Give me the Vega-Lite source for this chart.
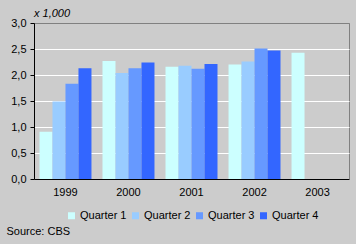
{
  "$schema": "https://vega.github.io/schema/vega-lite/v6.json",
  "width": 315,
  "height": 156,
  "autosize": {"type": "none"},
  "padding": {"left": 34, "top": 23, "right": 7, "bottom": 65},
  "background": "#cccccc",
  "title": {"text": "x 1,000", "fontStyle": "italic", "fontWeight": "normal", "font": "Liberation Sans", "fontSize": 11, "anchor": "start", "frame": "group", "offset": -2, "color": "black"},
  "data": {"values": [
    {"year": "1999", "quarter": "Quarter 1", "value": 0.91},
    {"year": "1999", "quarter": "Quarter 2", "value": 1.49},
    {"year": "1999", "quarter": "Quarter 3", "value": 1.83},
    {"year": "1999", "quarter": "Quarter 4", "value": 2.13},
    {"year": "2000", "quarter": "Quarter 1", "value": 2.27},
    {"year": "2000", "quarter": "Quarter 2", "value": 2.04},
    {"year": "2000", "quarter": "Quarter 3", "value": 2.13},
    {"year": "2000", "quarter": "Quarter 4", "value": 2.24},
    {"year": "2001", "quarter": "Quarter 1", "value": 2.16},
    {"year": "2001", "quarter": "Quarter 2", "value": 2.18},
    {"year": "2001", "quarter": "Quarter 3", "value": 2.12},
    {"year": "2001", "quarter": "Quarter 4", "value": 2.21},
    {"year": "2002", "quarter": "Quarter 1", "value": 2.2},
    {"year": "2002", "quarter": "Quarter 2", "value": 2.26},
    {"year": "2002", "quarter": "Quarter 3", "value": 2.51},
    {"year": "2002", "quarter": "Quarter 4", "value": 2.47},
    {"year": "2003", "quarter": "Quarter 1", "value": 2.43}
  ]},
  "mark": {"type": "bar"},
  "encoding": {
    "x": {
      "field": "year", "type": "nominal",
      "scale": {"paddingInner": 0.175, "paddingOuter": 0.087},
      "axis": {
        "labelAngle": 0, "ticks": false, "labelPadding": 7, "domainColor": "black",
        "title": "Source: CBS", "titleX": -28, "titleY": 52, "titleAlign": "left",
        "titleBaseline": "middle", "titleFontWeight": "normal", "titleAnchor": "start"
      }
    },
    "xOffset": {"field": "quarter", "type": "nominal", "scale": {"domain": ["Quarter 1", "Quarter 2", "Quarter 3", "Quarter 4"], "paddingInner": 0, "paddingOuter": 0}},
    "y": {
      "field": "value", "type": "quantitative",
      "scale": {"domain": [0, 3], "nice": false},
      "axis": {
        "title": null, "values": [0, 0.5, 1, 1.5, 2, 2.5, 3],
        "labelExpr": "replace(format(datum.value, '.1f'), '.', ',')",
        "tickSize": 4, "tickColor": "black", "labelPadding": 4, "domainColor": "black",
        "gridColor": {"condition": {"test": "datum.value === 3", "value": "#808080"}, "value": "white"},
        "gridOpacity": 1
      }
    },
    "color": {
      "field": "quarter", "type": "nominal",
      "scale": {"domain": ["Quarter 1", "Quarter 2", "Quarter 3", "Quarter 4"], "range": ["#ccffff", "#99ccff", "#6699ff", "#3366ff"]},
      "legend": {
        "title": null, "orient": "none", "direction": "horizontal", "legendX": 32, "legendY": 187,
        "symbolType": "square", "symbolSize": 49, "symbolStrokeWidth": 0, "labelOffset": 3,
        "columnPadding": 3, "padding": 0, "labelFontSize": 11, "labelColor": "black", "labelFont": "Liberation Sans"
      }
    }
  },
  "config": {
    "view": {"stroke": "#808080", "strokeWidth": 1},
    "axis": {"labelFont": "Liberation Sans", "labelFontSize": 11, "labelColor": "black", "titleFont": "Liberation Sans", "titleFontSize": 11, "titleColor": "black", "domainWidth": 1, "gridWidth": 1},
    "font": "Liberation Sans"
  }
}
